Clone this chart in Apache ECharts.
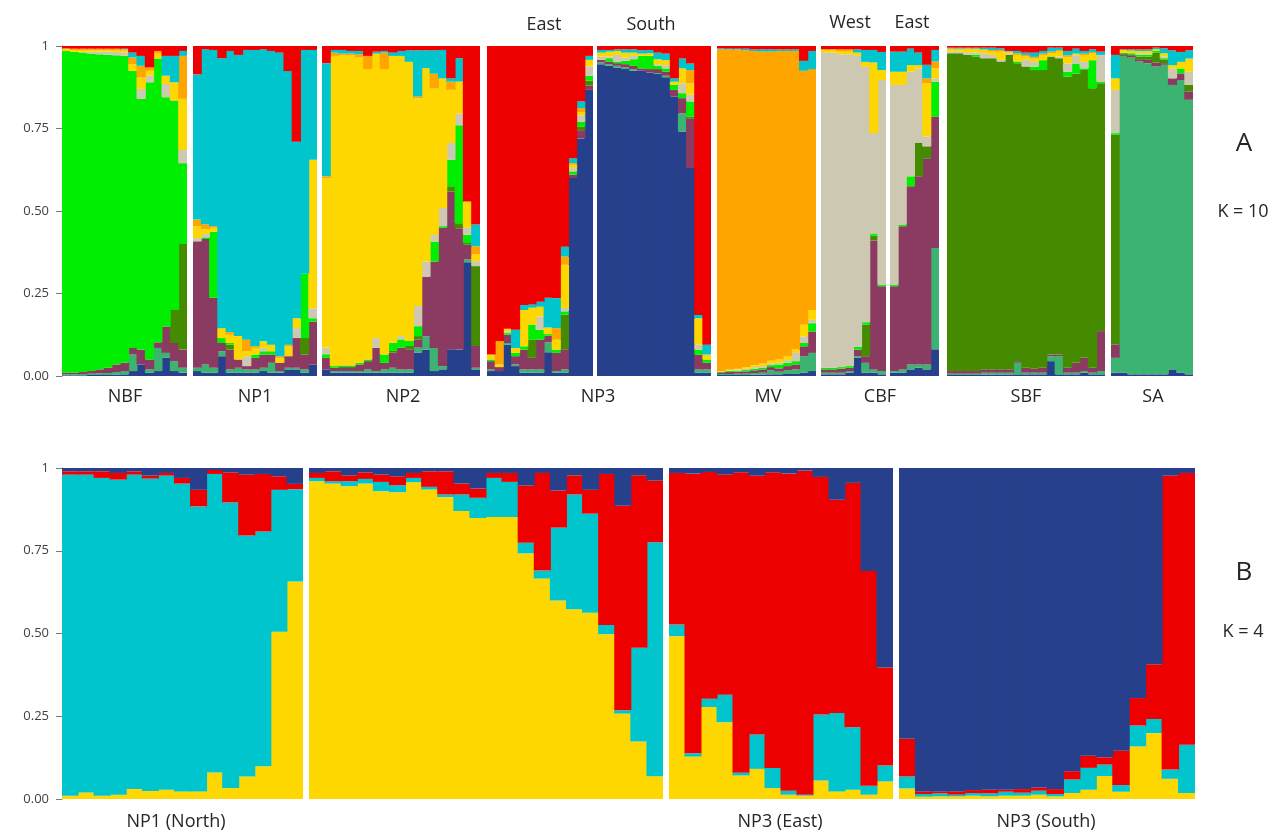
<!DOCTYPE html>
<html>
<head>
<meta charset="utf-8">
<title>STRUCTURE bar plot K=10 / K=4</title>
<script src="https://cdn.jsdelivr.net/npm/echarts@6/dist/echarts.min.js"></script>
<style>
html, body { margin: 0; padding: 0; background: #ffffff; }
#chart { width: 1276px; height: 834px; }
</style>
</head>
<body>
<div id="chart"></div>
<script>
// y axis tick labels (0, .25, .5, .75, 1)
const tickLabels = ['0.00', '0.25', '0.50', '0.75', '1'];

// K = 10 cluster colours, bottom -> top of each bar
const colorsA = ['#27408B', '#3CB371', '#8B3A62', '#458B00', '#00EE00',
                 '#CDC8B1', '#FFD700', '#FFA500', '#00C5CD', '#EE0000'];
// K = 4 cluster colours, bottom -> top
const colorsB = ['#FFD700', '#00C5CD', '#EE0000', '#27408B'];

// ---- panel A, K = 10 : one row per individual, ten membership values ----
const nbf = [
    [.002, .003, .005, 0, .975, 0, .005, .003, 0, .007],
    [.002, .003, .005, 0, .972, 0, .006, .004, 0, .008],
    [.002, .004, .006, 0, .968, .002, .006, .004, 0, .008],
    [.003, .004, .008, 0, .962, .006, .005, .004, 0, .008],
    [.003, .005, .012, 0, .955, .008, .005, .004, 0, .008],
    [.003, .006, .016, 0, .948, .01, .005, .004, 0, .008],
    [.004, .008, .023, 0, .937, .01, .006, .004, 0, .008],
    [.005, .01, .025, 0, .93, .01, .006, .004, .002, .008],
    [.015, .05, .02, 0, .84, 0, .02, .02, .015, .02],
    [.035, 0, .045, 0, .76, .03, .035, .035, .03, .03],
    [.01, .01, .03, 0, .84, .02, .015, .01, 0, .065],
    [.015, .07, .017, 0, .86, 0, .015, .008, 0, .015],
    [.055, .015, .08, 0, .695, .04, .025, 0, .06, .03],
    [.015, .03, .055, .1, .635, 0, .055, 0, .08, .03],
    [.01, .015, .055, .32, .245, .04, .155, .13, .015, .015]
];
const np1 = [
    [.015, .01, .383, 0, 0, .01, .036, .02, .44, .086],
    [.01, .025, .38, 0, .005, .01, .015, .015, .53, .01],
    [.01, .015, .212, 0, .2, 0, .012, .005, .534, .012],
    [.06, .015, .025, 0, .015, 0, .03, 0, .818, .037],
    [.01, .01, .06, .015, .005, 0, .025, .008, .852, .015],
    [.01, .015, .025, 0, 0, 0, .071, 0, .852, .027],
    [.01, .01, .01, 0, 0, .03, .015, .035, .878, .012],
    [.01, .01, .035, 0, .01, 0, .02, .005, .898, .012],
    [.015, .01, .04, 0, .01, .01, .02, 0, .885, .01],
    [.01, .03, .025, 0, .01, 0, .02, 0, .89, .015],
    [.01, .005, .025, 0, 0, 0, .015, .005, .92, .02],
    [.02, .005, .035, 0, 0, 0, .03, .005, .829, .076],
    [.02, .005, .09, 0, 0, .03, .03, 0, .535, .29],
    [.01, .01, .045, .05, .195, 0, 0, 0, .678, .012],
    [.035, 0, .13, 0, .01, .03, .45, 0, .333, .012]
];
const np2 = [
    [.02, 0, .035, 0, .011, .02, .514, .005, .343, .052],
    [.01, .005, .01, 0, .005, 0, .94, .01, .008, .012],
    [.01, .005, .012, 0, .005, 0, .94, .005, .011, .012],
    [.01, .005, .012, 0, .005, 0, .94, .005, .008, .015],
    [.01, .005, .02, 0, .005, 0, .925, .01, .01, .015],
    [.01, .01, .025, 0, .005, 0, .88, .04, 0, .03],
    [.01, .005, .07, 0, 0, .03, .862, 0, .006, .017],
    [.01, .01, .02, 0, .025, 0, .865, .05, .005, .015],
    [.01, .015, .046, .005, .025, 0, .869, 0, .01, .02],
    [.01, .01, .066, 0, .025, .01, .849, 0, .015, .015],
    [.01, .01, .061, .01, .015, 0, .846, 0, .035, .013],
    [.071, .015, .025, .01, .03, .061, .63, .005, .14, .013],
    [.08, .04, .181, 0, 0, .046, .586, 0, .054, .013],
    [.015, .07, .262, 0, .06, .02, .444, .045, .071, .013],
    [.02, .01, .419, 0, .005, .055, .393, 0, .086, .012],
    [.081, 0, .478, .016, .08, .051, .161, .025, .01, .098],
    [.08, 0, .368, .015, .297, .035, .097, 0, .071, .037],
    [.345, .008, .045, .005, .025, .021, .08, 0, 0, .471],
    [.02, .005, .066, .242, 0, .015, .02, .025, .066, .541]
];
const np3East = [
    [.015, .005, .025, 0, .005, 0, .015, 0, 0, .935],
    [.015, 0, .012, 0, 0, 0, .008, .071, 0, .894],
    [.095, .005, .025, 0, .005, .005, .008, 0, 0, .857],
    [.03, .005, .025, 0, .01, 0, .015, 0, .055, .86],
    [.01, .01, .06, 0, .01, 0, .11, 0, .015, .785],
    [.01, .01, .035, .056, .045, 0, .051, 0, .01, .783],
    [.01, .01, .09, 0, .03, .04, .03, 0, .015, .775],
    [.072, .03, .02, 0, .005, 0, .02, 0, .09, .763],
    [.01, .005, .055, 0, .01, 0, .03, .035, .091, .764],
    [.01, .01, .061, .105, .01, .01, .131, .025, .03, .608],
    [.6, 0, .01, 0, .01, .01, .01, .005, .015, .34],
    [.72, 0, .025, .01, .015, .02, .01, .012, .02, .168],
    [.867, 0, .013, .015, .015, .028, .02, 0, .012, .03]
];
const np3South = [
    [.945, .005, .008, 0, 0, .01, .012, 0, .008, .012],
    [.94, .005, .008, 0, .01, .005, .015, 0, .005, .012],
    [.935, .005, .008, 0, .005, .02, .012, 0, .005, .01],
    [.93, .005, .01, 0, .01, .01, .015, 0, .01, .01],
    [.925, .005, .01, 0, .02, .01, .01, 0, .01, .01],
    [.925, 0, .007, 0, .038, 0, .007, 0, .01, .013],
    [.92, 0, .01, 0, .04, 0, .008, 0, .01, .012],
    [.915, .003, .012, 0, .01, .005, .015, 0, .02, .02],
    [.905, .005, .012, 0, .01, .01, .015, 0, .02, .023],
    [.847, 0, .02, 0, .015, 0, .01, 0, .01, .098],
    [.741, .055, .046, 0, .015, .03, .045, 0, .03, .038],
    [.63, 0, .151, .005, .046, .02, .035, .04, .02, .053],
    [.01, .01, .045, 0, .015, .015, .08, 0, .01, .815],
    [.01, .01, .02, 0, .01, 0, .015, 0, .03, .905]
];
const mv = [
    [.003, .003, .005, 0, .002, 0, .002, .975, .003, .007],
    [.003, .003, .006, 0, .003, .002, .003, .969, .003, .008],
    [.003, .004, .006, 0, .003, .003, .003, .967, .003, .008],
    [.003, .004, .007, 0, .004, .004, .005, .96, .005, .008],
    [.004, .005, .008, 0, .005, .005, .006, .952, .005, .01],
    [.004, .006, .01, 0, .005, .005, .008, .945, .007, .01],
    [.005, .012, .01, 0, .006, .005, .008, .937, .007, .01],
    [.005, .008, .01, 0, .012, .005, .01, .935, .005, .01],
    [.006, .012, .012, 0, .01, .008, .012, .925, .005, .01],
    [.006, .014, .015, 0, .01, .025, .01, .905, .005, .01],
    [.01, .05, .03, 0, .01, .02, .035, .77, .03, .045],
    [.015, .055, .065, 0, .025, .01, .03, .73, .055, .015]
];
const cbfWest = [
    [.005, .005, .01, 0, .005, .955, .01, 0, 0, .01],
    [.005, .005, .01, 0, .005, .955, .01, 0, 0, .01],
    [.005, .005, .012, 0, .005, .948, .01, .005, 0, .01],
    [.01, .005, .01, 0, .005, .945, .01, .005, 0, .01],
    [.055, .005, .02, 0, .008, .882, .01, 0, .01, .01],
    [.01, .03, .02, .096, .007, .774, .015, 0, .036, .012],
    [.01, .01, .39, .015, .007, .304, .214, 0, .038, .012],
    [.005, .01, .257, 0, .005, .62, .03, 0, .055, .018]
];
const cbfEast = [
    [.01, .005, .257, 0, .005, .605, .04, 0, .061, .017],
    [.01, .01, .434, 0, .005, .423, .04, 0, .061, .017],
    [.02, .015, .54, 0, .03, .317, .02, 0, .05, .008],
    [.025, .01, .57, .101, 0, .226, .01, 0, .038, .02],
    [.02, .015, .625, .036, 0, .03, .161, .015, .041, .057],
    [.081, .307, .398, 0, .106, .01, .03, .021, .035, .012]
];
const sbf = [
    [.003, .004, .008, .963, 0, .005, .007, .003, .002, .005],
    [.003, .004, .008, .963, 0, .005, .007, .002, .003, .005],
    [.003, .004, .008, .958, 0, .008, .01, .002, .002, .005],
    [.003, .004, .008, .953, .006, .006, .01, .002, .003, .005],
    [.004, .006, .01, .943, 0, .015, .01, .002, .005, .005],
    [.004, .006, .01, .943, 0, .01, .01, .005, .007, .005],
    [.004, .006, .01, .933, 0, .005, .025, .005, .005, .007],
    [.004, .006, .01, .953, 0, .005, .005, 0, .002, .015],
    [.005, .035, .005, .903, .005, 0, .02, .005, .007, .015],
    [.005, .005, .015, .913, 0, .02, .01, .005, .007, .02],
    [.005, .005, .012, .905, .01, .015, .01, .005, .013, .02],
    [.005, .005, .015, .902, .03, 0, .015, .005, .008, .015],
    [.045, .015, .005, .903, 0, 0, .01, .005, .012, .005],
    [.005, .055, .005, .898, 0, .005, .015, .005, .007, .005],
    [.005, .005, .015, .882, .015, .025, .02, .005, .013, .015],
    [.005, .005, .03, .877, .03, .025, .005, 0, .015, .008],
    [.01, .005, .04, .872, .005, .02, .02, .005, .008, .015],
    [.005, .005, .015, .847, .085, 0, .02, .005, .008, .01],
    [.005, .01, .121, .751, .005, .081, 0, 0, .01, .017]
];
const sa = [
    [.01, .045, .041, .635, .005, .131, .035, 0, .071, .027],
    [.01, .96, .003, .005, .002, 0, .008, 0, .002, .01],
    [.005, .96, .005, .005, .003, 0, .008, 0, .004, .01],
    [.005, .948, .007, .008, .005, .005, .007, 0, .005, .01],
    [.005, .943, .01, .01, .005, .005, .007, 0, .005, .01],
    [.005, .933, .012, .03, .005, 0, .005, 0, .005, .005],
    [.005, .938, .005, .01, .005, .005, .01, 0, .015, .007],
    [.02, .862, .02, 0, 0, .03, .01, 0, .045, .013],
    [.01, .887, .02, 0, .015, 0, .02, 0, .03, .018],
    [.005, .832, .025, .02, 0, .04, .04, 0, .025, .013]
];

// ---- panel B, K = 4 : [yellow, cyan, red, blue] ----
const np1North = [
    [.01, .97, .01, .01], [.02, .96, .01, .01], [.01, .96, .02, .01],
    [.013, .952, .02, .015], [.03, .95, .01, .01], [.024, .944, .009, .023],
    [.028, .949, .008, .015], [.023, .93, .017, .03], [.023, .861, .05, .066],
    [.08, .902, .012, .006], [.033, .863, .091, .013], [.068, .728, .184, .02],
    [.099, .709, .174, .018], [.505, .429, .041, .025], [.657, .279, .016, .048]
];
const np2K4 = [
    [.96, .01, .015, .015], [.953, .007, .03, .01], [.945, .015, .018, .022],
    [.953, .014, .02, .013], [.93, .028, .022, .02], [.927, .021, .027, .025],
    [.957, .013, .015, .015], [.935, .008, .047, .01], [.912, .008, .07, .01],
    [.87, .05, .033, .047], [.849, .061, .028, .062], [.852, .118, .015, .015],
    [.852, .106, .027, .015], [.742, .032, .173, .053], [.666, .024, .295, .015],
    [.60, .22, .112, .068], [.573, .347, .058, .022], [.563, .299, .072, .066],
    [.498, .028, .456, .018], [.258, .01, .618, .114], [.174, .283, .521, .022],
    [.069, .707, .186, .038]
];
const np3EastK4 = [
    [.492, .035, .458, .015], [.128, .01, .845, .017], [.278, .025, .685, .012],
    [.232, .083, .665, .02], [.071, .008, .908, .013], [.091, .104, .782, .023],
    [.033, .061, .893, .013], [.013, .012, .958, .017], [.01, .003, .979, .008],
    [.056, .199, .718, .027], [.023, .237, .644, .096], [.028, .189, .738, .045],
    [.013, .027, .649, .311], [.053, .048, .296, .603]
];
const np3SouthK4 = [
    [.032, .036, .114, .818], [.007, .008, .008, .977], [.008, .009, .006, .977],
    [.008, .005, .01, .977], [.01, .008, .009, .973], [.008, .009, .011, .972],
    [.01, .012, .006, .972], [.01, .009, .011, .97], [.013, .012, .01, .965],
    [.008, .007, .015, .97], [.018, .041, .025, .916], [.028, .066, .037, .869],
    [.069, .035, .022, .874], [.022, .02, .104, .854], [.159, .063, .083, .695],
    [.199, .043, .165, .593], [.061, .028, .888, .023], [.018, .146, .821, .015]
];

// pixel placement of each population block
const panelA = { top: 46, height: 330, colors: colorsA, groups: [
    { rows: nbf, x0: 62, x1: 187 },
    { rows: np1, x0: 193, x1: 317 },
    { rows: np2, x0: 322, x1: 480 },
    { rows: np3East, x0: 487, x1: 593 },
    { rows: np3South, x0: 597, x1: 711 },
    { rows: mv, x0: 717, x1: 816 },
    { rows: cbfWest, x0: 821, x1: 886 },
    { rows: cbfEast, x0: 890, x1: 939 },
    { rows: sbf, x0: 947, x1: 1105 },
    { rows: sa, x0: 1111, x1: 1193 }
]};
const panelB = { top: 468, height: 331, colors: colorsB, groups: [
    { rows: np1North, x0: 62, x1: 303 },
    { rows: np2K4, x0: 309, x1: 663 },
    { rows: np3EastK4, x0: 669, x1: 893 },
    { rows: np3SouthK4, x0: 899, x1: 1195 }
]};

const grids = [], xAxes = [], yAxes = [], series = [];

function addPanel(panel, tag) {
    panel.groups.forEach((g, gi) => {
        const idx = grids.length;
        const w = g.x1 - g.x0;
        // bars a touch wider than their band so neighbours overlap (no seams)
        const barW = w / g.rows.length + 1;
        grids.push({ left: g.x0, top: panel.top, width: w, height: panel.height });
        xAxes.push({
            type: 'category', gridIndex: idx, show: false,
            data: g.rows.map((r, i) => i + 1)
        });
        yAxes.push({
            type: 'value', gridIndex: idx, min: 0, max: 1, interval: 0.25,
            show: gi === 0,
            axisLine: { show: true, lineStyle: { color: '#7a7a7a', width: 1 } },
            axisTick: { show: true, length: 6, lineStyle: { color: '#7a7a7a' } },
            splitLine: { show: false },
            axisLabel: {
                margin: 13, color: '#404040', fontSize: 13, fontFamily: 'Open Sans',
                formatter: v => tickLabels[Math.round(v * 4)]
            }
        });
        panel.colors.forEach((c, ci) => {
            series.push({
                name: tag + ' cluster ' + (ci + 1),
                type: 'bar', xAxisIndex: idx, yAxisIndex: idx,
                stack: tag + gi, barWidth: barW,
                itemStyle: { color: c },
                data: g.rows.map(r => (r[ci] > 0 ? r[ci] : null)),
                silent: true
            });
        });
    });
}
addPanel(panelA, 'A');
addPanel(panelB, 'B');

function label(text, x, y, size) {
    return {
        type: 'text', x: x, y: y, silent: true,
        style: { text: text, fill: '#262626', font: (size || 18) + 'px "Open Sans"', align: 'center', verticalAlign: 'middle' }
    };
}

const chart = echarts.init(document.getElementById('chart'));
chart.setOption({
    animation: false,
    backgroundColor: '#ffffff',
    grid: grids,
    xAxis: xAxes,
    yAxis: yAxes,
    series: series,
    graphic: [
        label('NBF', 125, 397), label('NP1', 255, 397), label('NP2', 403, 397),
        label('NP3', 598, 397), label('MV', 768, 397), label('CBF', 880, 397),
        label('SBF', 1026, 397), label('SA', 1153, 397),
        label('East', 544, 25), label('South', 651, 25),
        label('West', 850, 23), label('East', 912, 23),
        label('A', 1244, 144, 26), label('K = 10', 1243, 212),
        label('NP1 (North)', 176, 822), label('NP3 (East)', 780, 822),
        label('NP3 (South)', 1046, 822),
        label('B', 1244, 573, 26), label('K = 4', 1243, 632)
    ]
});
</script>
</body>
</html>
